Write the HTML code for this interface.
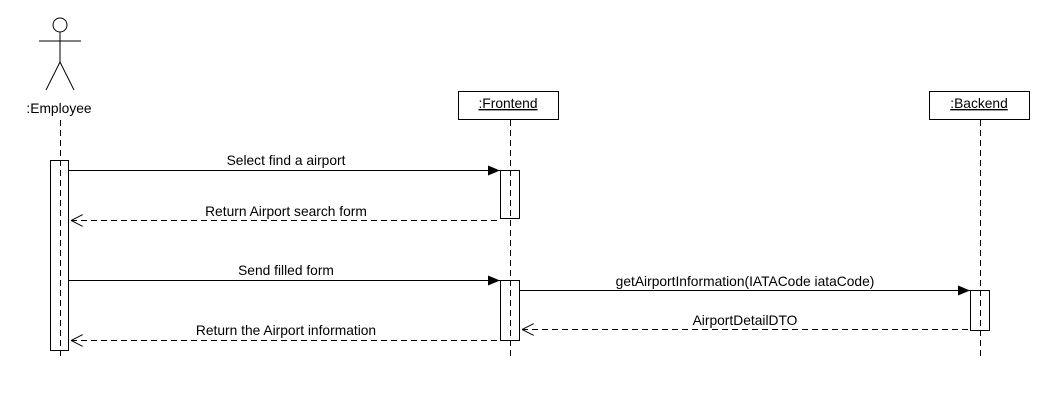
<!DOCTYPE html>
<html><head><style>body{margin:0;background:#fff}svg{display:block}text{font-family:"Liberation Sans",Arial,sans-serif;font-size:13.8px;fill:#000}</style></head><body>
<svg width="1050" height="400" viewBox="0 0 1050 400" xmlns="http://www.w3.org/2000/svg">
<defs>
<marker id="f" markerWidth="12" markerHeight="10" refX="12" refY="5" orient="auto" markerUnits="userSpaceOnUse"><path d="M0,0 L12,5 L0,10 Z" fill="#000"/></marker>
<marker id="o" markerWidth="12" markerHeight="12" refX="0" refY="6" orient="auto" markerUnits="userSpaceOnUse"><path d="M12,0 L0,6 L12,12" fill="none" stroke="#000"/></marker>
</defs>
<g stroke="#000" fill="none" stroke-width="1">
<circle cx="60" cy="25" r="7" fill="#fff"/>
<line x1="60" y1="32" x2="60" y2="62"/>
<line x1="39" y1="41" x2="81" y2="41"/>
<line x1="60" y1="62" x2="46" y2="90"/>
<line x1="60" y1="62" x2="74" y2="90"/>
<rect x="458.5" y="91.5" width="100" height="28" fill="#fff"/>
<rect x="929.5" y="91.5" width="100" height="28" fill="#fff"/>
<g stroke-dasharray="6,4">
<line x1="60.5" y1="120" x2="60.5" y2="360"/>
<line x1="510.5" y1="120" x2="510.5" y2="360"/>
<line x1="980.5" y1="120" x2="980.5" y2="360"/>
</g>
<rect x="50.5" y="160.5" width="18" height="190"/>
<rect x="500.5" y="170.5" width="19" height="48"/>
<rect x="500.5" y="280.5" width="19" height="60"/>
<rect x="970.5" y="290.5" width="19" height="40"/>
<line x1="69" y1="170.5" x2="500" y2="170.5" marker-end="url(#f)"/>
<line x1="71" y1="220.5" x2="500" y2="220.5" stroke-dasharray="6,4" marker-start="url(#o)"/>
<line x1="69" y1="280.5" x2="500" y2="280.5" marker-end="url(#f)"/>
<line x1="520" y1="290.5" x2="970" y2="290.5" marker-end="url(#f)"/>
<line x1="522" y1="329.5" x2="970" y2="329.5" stroke-dasharray="6,4" marker-start="url(#o)"/>
<line x1="71" y1="340.5" x2="500" y2="340.5" stroke-dasharray="6,4" marker-start="url(#o)"/>
</g>
<text x="59" y="113" text-anchor="middle">:Employee</text>
<text x="508" y="108" text-anchor="middle" text-decoration="underline">:Frontend</text>
<text x="979" y="108" text-anchor="middle" text-decoration="underline">:Backend</text>
<text x="286" y="165" text-anchor="middle">Select find a airport</text>
<text x="286" y="216" text-anchor="middle">Return Airport search form</text>
<text x="286" y="275" text-anchor="middle">Send filled form</text>
<text x="745" y="286" text-anchor="middle">getAirportInformation(IATACode iataCode)</text>
<text x="745" y="325" text-anchor="middle">AirportDetailDTO</text>
<text x="286" y="335" text-anchor="middle">Return the Airport information</text>
</svg>
</body></html>
